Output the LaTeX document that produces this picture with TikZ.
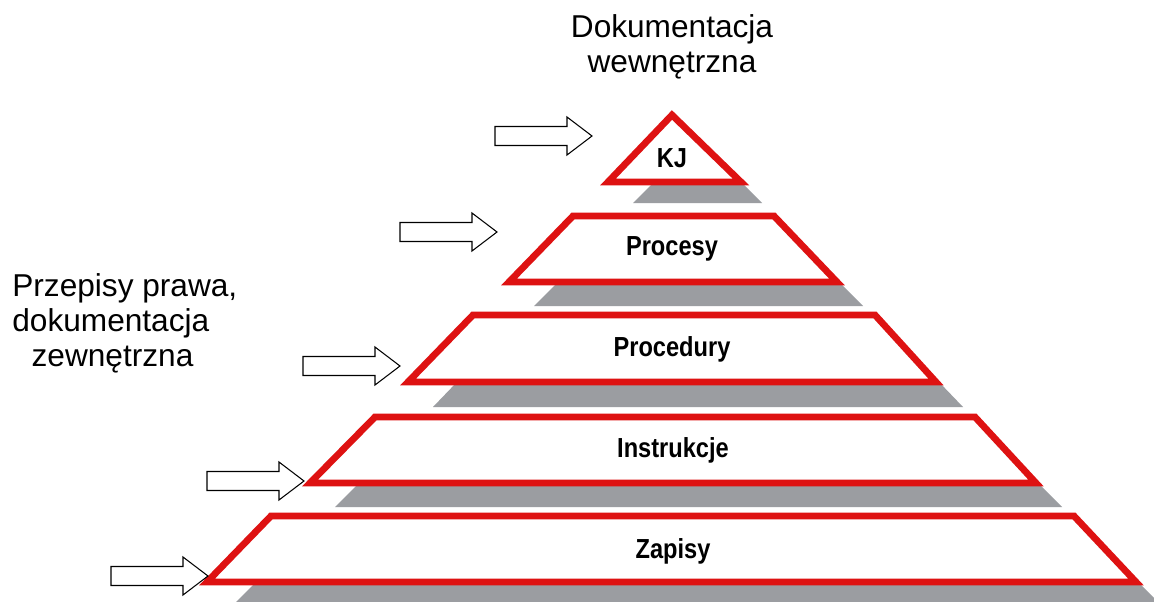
\documentclass[tikz,border=0pt]{standalone}
\usepackage{fontspec}
\setmainfont{Liberation Sans}
\definecolor{lvlred}{RGB}{222,18,18}
\definecolor{shadowgray}{RGB}{155,157,161}
\newcommand{\lvllabel}[1]{\scalebox{0.96}[1.12]{#1}}
\begin{document}
\begin{tikzpicture}[x=0.02cm,y=-0.02cm,
  level/.style={draw=lvlred,fill=white,line width=0.135cm,line join=miter},
  shadow/.style={fill=shadowgray,draw=none},
  lvltext/.style={font=\fontsize{14}{16}\selectfont\bfseries,inner sep=0pt},
  outtext/.style={font=\fontsize{18}{20}\selectfont,inner sep=0pt},
  blockarrow/.style={draw=black,fill=white,line width=0.6pt,line join=miter},
]
\useasboundingbox (0,0) rectangle (1154,602);
\fill[white] (0,0) rectangle (1154,602);

% shadows
\begin{scope}
\clip (0,0) rectangle (1154,602);
\fill[shadow] (654,182) -- (741,182) -- (762,203) -- (633,203) -- cycle;
\fill[shadow] (558,282) -- (839,282) -- (863,306) -- (534,306) -- cycle;
\fill[shadow] (457,382) -- (939,382) -- (963,407) -- (433,407) -- cycle;
\fill[shadow] (359,483) -- (1038,483) -- (1062,507) -- (335,507) -- cycle;
\fill[shadow] (256,582) -- (1138,582) -- (1162,606) -- (232,606) -- cycle;
\end{scope}

% levels
\draw[level] (672,115) -- (741,182) -- (608,182) -- cycle;
\draw[level] (573,216) -- (774,216) -- (837,282) -- (509,282) -- cycle;
\draw[level] (473,315) -- (875,315) -- (936,382) -- (408,382) -- cycle;
\draw[level] (375,417) -- (975,417) -- (1036,483) -- (310,483) -- cycle;
\draw[level] (271,516) -- (1074,516) -- (1136,582) -- (207,582) -- cycle;

% level labels
\node[lvltext] (kj) at (672,158) {\lvllabel{KJ}};
\node[lvltext] (procesy) at (672,249) {\lvllabel{Procesy}};
\node[lvltext] (procedury) at (672,349) {\lvllabel{Procedury}};
\node[lvltext] (instrukcje) at (673,450) {\lvllabel{Instrukcje}};
\node[lvltext] (zapisy) at (673,551) {\lvllabel{Zapisy}};

% outside labels
\node[outtext,anchor=north,align=center] (wewn) at (672,14) {Dokumentacja\\wewnętrzna};
\node[outtext,anchor=north west,align=left] (zewn) at (12,273) {Przepisy prawa,\\dokumentacja\\\hspace*{11pt}zewnętrzna};

% block arrows (tip coordinates)
\coordinate (t1) at (592,136);
\coordinate (t2) at (497,232);
\coordinate (t3) at (400,366);
\coordinate (t4) at (304,481);
\coordinate (t5) at (208,576);
\foreach \t in {t1,t2,t3,t4,t5}{
  \draw[blockarrow] (\t) -- ++(-25,-19) -- ++(0,9.5) -- ++(-72,0) -- ++(0,19) -- ++(72,0) -- ++(0,9.5) -- cycle;
}
\end{tikzpicture}
\end{document}
